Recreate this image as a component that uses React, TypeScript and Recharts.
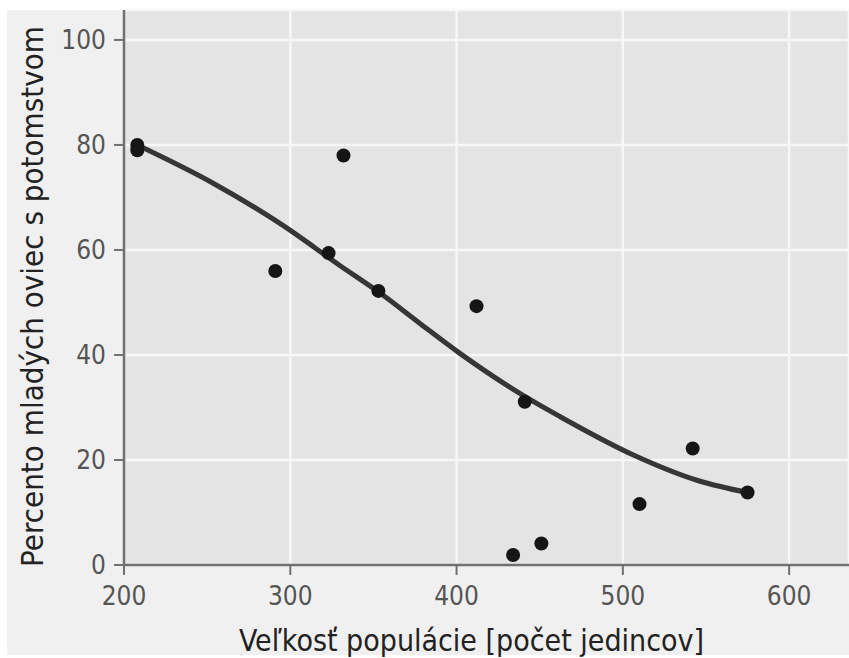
import React from 'react';
import { ComposedChart, Scatter, Line, XAxis, YAxis, CartesianGrid } from 'recharts';

// observed data: population size vs percent of young sheep with offspring
const popSize = [208, 208, 291, 323, 332, 353, 412, 434, 441, 451, 510, 542, 575];
const pctYoung = [80, 79, 56, 59.4, 78, 52.2, 49.3, 1.9, 31.1, 4.1, 11.6, 22.2, 13.8];

// fitted curve
const fitX = [208, 252, 294, 330, 354, 378, 402, 440, 462, 506, 546, 575];
const fitY = [80, 73, 65, 57, 51.8, 46, 40.3, 32.3, 28.3, 21, 16, 13.8];

const xTicks = [200, 300, 400, 500, 600];
const yTicks = [0, 20, 40, 60, 80, 100];

const xTitle = 'Veľkosť populácie [počet jedincov]';
const yTitle = 'Percento mladých oviec s potomstvom';

const points = popSize.map((x, i) => ({ x, y: pctYoung[i] }));
const fit = fitX.map((x, i) => ({ x, y: fitY[i] }));

const FONT = '"DejaVu Sans Condensed", "DejaVu Sans", sans-serif';

const Dot = (props: any) => <circle cx={props.cx} cy={props.cy} r={7} fill="#151515" />;

const XTitle = (props: any) => {
  const vb = props.viewBox;
  return (
    <text x={vb.x + vb.width / 2 - 15} y={651} textAnchor="middle" fontSize={30} fill="#222" fontFamily={FONT}>
      {xTitle}
    </text>
  );
};

const YTitle = (props: any) => {
  const vb = props.viewBox;
  const cy = vb.y + vb.height / 2 + 9;
  return (
    <text x={0} y={0} transform={`translate(43, ${cy}) rotate(-90)`} textAnchor="middle" fontSize={31} fill="#222" fontFamily={FONT}>
      {yTitle}
    </text>
  );
};

export default function App() {
  return (
    <div style={{ position: 'absolute', left: 0, top: 0, width: 849, height: 658, background: '#ffffff', overflow: 'hidden' }}>
      <div style={{ position: 'absolute', left: 7, top: 10, width: 842, height: 645, background: '#f0f0f0' }} />
      <div style={{ position: 'absolute', left: 0, top: 0 }}>
        <ComposedChart width={849} height={658} margin={{ top: 10, right: 0, bottom: 0, left: 7 }}>
          <CartesianGrid fill="#e4e4e4" stroke="#f7f7f7" strokeWidth={2.5} />
          <XAxis
            type="number"
            dataKey="x"
            domain={[200, 636]}
            ticks={xTicks}
            allowDataOverflow
            height={93}
            axisLine={{ stroke: '#707070', strokeWidth: 2.5 }}
            tickLine={{ stroke: '#707070', strokeWidth: 2 }}
            tickSize={10}
            tickMargin={12}
            tick={{ fill: '#555', fontSize: 26, fontFamily: FONT }}
            label={<XTitle />}
          />
          <YAxis
            type="number"
            dataKey="y"
            domain={[0, 105.7]}
            ticks={yTicks}
            allowDataOverflow
            width={117}
            axisLine={{ stroke: '#707070', strokeWidth: 2.5 }}
            tickLine={{ stroke: '#707070', strokeWidth: 2 }}
            tickSize={10}
            tickMargin={8}
            tick={{ fill: '#555', fontSize: 26, fontFamily: FONT }}
            label={<YTitle />}
          />
          <Line data={fit} dataKey="y" type="monotone" stroke="#363636" strokeWidth={5} dot={false} isAnimationActive={false} />
          <Scatter data={points} dataKey="y" shape={<Dot />} isAnimationActive={false} />
        </ComposedChart>
      </div>
    </div>
  );
}
